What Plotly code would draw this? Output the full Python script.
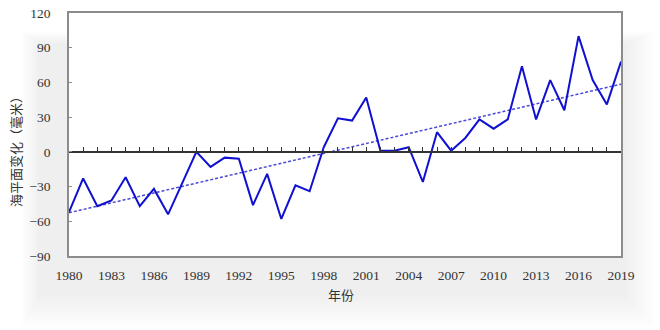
import numpy as np
import plotly.graph_objects as go

# Annual mean sea level anomaly (mm), 1980-2019
years = list(range(1980, 2020))
sea_level = [-52, -23, -47, -42, -22, -47, -32, -54, -27, 0,
             -13, -5, -6, -46, -19, -58, -29, -34, 4, 29,
             27, 47, 1, 1, 4, -26, 17, 1, 12, 28,
             20, 28, 74, 28, 62, 36, 100, 62, 41, 78]

x_ticks = list(range(1980, 2020, 3))
y_ticks = [-90, -60, -30, 0, 30, 60, 90, 120]

# Linear trend fitted to the series
slope, intercept = np.polyfit(years, sea_level, 1)
trend = [slope * y + intercept for y in years]

NUM_FONT = "Liberation Serif, 'Noto Sans CJK SC', serif"
CJK_FONT = "'Noto Sans CJK SC', 'Liberation Serif', serif"

PW, PH = 552, 243  # plot area size in pixels

fig = go.Figure()

fig.add_trace(go.Scatter(
    x=years, y=trend, mode="lines",
    line=dict(color="#4a4ad8", width=1.5, dash="3px,2px"),
    hoverinfo="skip", showlegend=False,
))
fig.add_trace(go.Scatter(
    x=years, y=sea_level, mode="lines",
    line=dict(color="#1010d0", width=2),
    showlegend=False,
))

# faint, diffuse grey shadow behind the chart
for i in range(16):
    grow = 2 * i
    fig.add_shape(type="rect", xref="paper", yref="paper",
                  x0=(-30 - grow * 0.6) / PW, x1=(PW + 4 + grow) / PW,
                  y0=(-40 - grow * 1.1) / PH, y1=(PH - 30 + grow * 0.4) / PH,
                  line=dict(width=0), fillcolor="black", opacity=0.0055,
                  layer="below")
fig.add_shape(type="rect", xref="paper", yref="paper",
              x0=0, x1=1, y0=0, y1=1, line=dict(width=0),
              fillcolor="white", layer="below")

fig.update_layout(
    width=660, height=330,
    margin=dict(l=69, r=39, t=13, b=74, autoexpand=False),
    paper_bgcolor="white",
    plot_bgcolor="rgba(0,0,0,0)",
    font=dict(family=NUM_FONT, size=13, color="#333333"),
    xaxis=dict(
        range=[1980, 2019], tickvals=x_ticks, ticks="",
        showgrid=False, zeroline=False, automargin=False,
        showline=True, linecolor="#8c8c8c", linewidth=1.5, mirror=True,
        tickfont=dict(family=NUM_FONT, size=13.5, color="#333333"),
        ticklabelstandoff=6,
    ),
    xaxis2=dict(
        range=[1980, 2019], overlaying="x", anchor="free",
        position=90 / 210, side="bottom", automargin=False,
        tickmode="linear", tick0=1980, dtick=1,
        ticks="inside", ticklen=4, tickwidth=1, tickcolor="#333333",
        showticklabels=False, showgrid=False, zeroline=False,
        showline=True, linecolor="#333333", linewidth=1.5,
    ),
    yaxis=dict(
        range=[-90, 120], tickvals=y_ticks, automargin=False,
        ticks="inside", ticklen=3, tickcolor="#8c8c8c",
        showgrid=False, zeroline=False,
        showline=True, linecolor="#8c8c8c", linewidth=1.5, mirror=True,
        tickfont=dict(family=NUM_FONT, size=13.5, color="#333333"),
        ticklabelstandoff=14,
    ),
    annotations=[
        dict(text="海平面变化（毫米）", xref="paper", yref="paper",
             x=(15 - 69) / PW, y=(256 - 149) / PH, textangle=-90,
             showarrow=False, xanchor="center", yanchor="middle",
             font=dict(family=CJK_FONT, size=13, color="#333333")),
        dict(text="年份", xref="paper", yref="paper",
             x=(341 - 69) / PW, y=(256 - 294) / PH,
             showarrow=False, xanchor="center", yanchor="middle",
             font=dict(family=CJK_FONT, size=13, color="#333333")),
    ],
)

# invisible point so the zero-line axis is drawn
fig.add_trace(go.Scatter(x=[1980], y=[0], xaxis="x2", mode="markers",
                         marker=dict(opacity=0), hoverinfo="skip",
                         showlegend=False))

fig.write_html("out.html")
